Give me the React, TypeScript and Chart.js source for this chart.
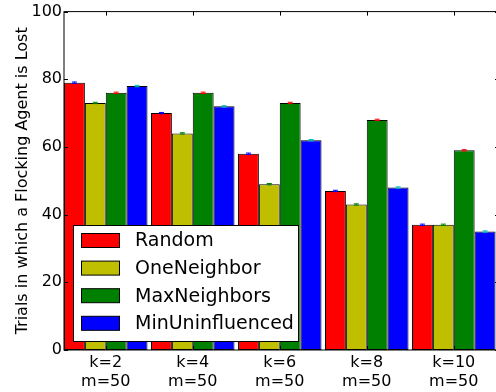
import { useEffect, useRef } from 'react';
import { Chart, registerables } from 'chart.js';

Chart.register(...registerables);

const categories: string[][] = [
  ['k=2', 'm=50'],
  ['k=4', 'm=50'],
  ['k=6', 'm=50'],
  ['k=8', 'm=50'],
  ['k=10', 'm=50'],
];
const seriesNames = ['Random', 'OneNeighbor', 'MaxNeighbors', 'MinUninfluenced'];
const randomValues = [79, 70, 58, 47, 37];
const oneNeighborValues = [73, 64, 49, 43, 37];
const maxNeighborsValues = [76, 76, 73, 68, 59];
const minUninfluencedValues = [78, 72, 62, 48, 35];
const randomErr = [0.2, 0.2, 0.2, 0.2, 0.2];
const oneNeighborErr = [0.2, 0.2, 0.2, 0.2, 0.2];
const maxNeighborsErr = [0.2, 0.2, 0.2, 0.2, 0.2];
const minUninfluencedErr = [0.2, 0.2, 0.2, 0.2, 0.2];
const yTicks = [0, 20, 40, 60, 80, 100];
const yTitle = 'Trials in which a Flocking Agent is Lost';

const barColors = ['#ff0000', '#bfbf00', '#008000', '#0000ff'];
const errColors = ['#0000ff', '#008000', '#ff0000', '#00bfbf'];
const FONT = '"DejaVu Sans", sans-serif';

const seriesValues = [randomValues, oneNeighborValues, maxNeighborsValues, minUninfluencedValues];
const seriesErrs = [randomErr, oneNeighborErr, maxNeighborsErr, minUninfluencedErr];

const decorPlugin = {
  id: 'decor',
  afterDatasetsDraw(chart: any) {
    const ctx = chart.ctx;
    const yScale = chart.scales.y;
    seriesValues.forEach((vals, di) => {
      const meta = chart.getDatasetMeta(di);
      meta.data.forEach((bar: any, j: number) => {
        const v = vals[j];
        const e = seriesErrs[di][j];
        const yTop = yScale.getPixelForValue(v + e);
        const yBot = yScale.getPixelForValue(v - e);
        ctx.save();
        ctx.strokeStyle = errColors[di];
        ctx.lineWidth = 1;
        ctx.beginPath();
        ctx.moveTo(bar.x, yTop);
        ctx.lineTo(bar.x, yBot);
        ctx.moveTo(bar.x - 2.5, yTop);
        ctx.lineTo(bar.x + 2.5, yTop);
        ctx.moveTo(bar.x - 2.5, yBot);
        ctx.lineTo(bar.x + 2.5, yBot);
        ctx.stroke();
        ctx.restore();
      });
    });
  },
  afterDraw(chart: any) {
    const ctx = chart.ctx;
    const { left, right, top, bottom } = chart.chartArea;
    const xScale = chart.scales.x;
    const yScale = chart.scales.y;
    ctx.save();
    ctx.strokeStyle = '#000';
    ctx.lineWidth = 1;
    ctx.beginPath();
    categories.forEach((_, i) => {
      const x = Math.round(xScale.getPixelForValue(i)) + 0.5;
      ctx.moveTo(x, top);
      ctx.lineTo(x, top + 4);
      ctx.moveTo(x, bottom);
      ctx.lineTo(x, bottom - 4);
    });
    yTicks.forEach((t) => {
      const y = Math.round(yScale.getPixelForValue(t)) + 0.5;
      ctx.moveTo(left, y);
      ctx.lineTo(left + 4, y);
      ctx.moveTo(right, y);
      ctx.lineTo(right - 4, y);
    });
    ctx.stroke();
    ctx.strokeStyle = '#000';
    ctx.lineWidth = 1;
    ctx.strokeRect(left, top, right - left, bottom - top);

    // legend
    const lx = 73.5, ly = 225.5, lw = 225, lh = 116;
    ctx.fillStyle = '#ffffff';
    ctx.fillRect(lx, ly, lw, lh);
    ctx.strokeStyle = '#000';
    ctx.lineWidth = 1;
    ctx.strokeRect(lx, ly, lw, lh);
    ctx.font = `19px ${FONT}`;
    ctx.textBaseline = 'middle';
    ctx.textAlign = 'left';
    seriesNames.forEach((name, i) => {
      const cy = 240.5 + i * 27.6;
      ctx.fillStyle = barColors[i];
      ctx.fillRect(81.5, cy - 7, 38, 14);
      ctx.strokeStyle = '#000';
      ctx.strokeRect(81.5, cy - 7, 38, 14);
      ctx.fillStyle = '#000';
      ctx.fillText(name, 135, cy + 1);
    });
    ctx.restore();
  },
};

export default function App() {
  const canvasRef = useRef<HTMLCanvasElement | null>(null);
  useEffect(() => {
    if (!canvasRef.current) return;
    const chart = new Chart(canvasRef.current, {
      type: 'bar',
      data: {
        datasets: seriesNames.map((name, di) => ({
          label: name,
          data: seriesValues[di].map((v, i) => ({ x: i, y: v })),
          backgroundColor: barColors[di],
          borderColor: '#000',
          borderWidth: 1,
          borderSkipped: false,
          categoryPercentage: 0.96,
          barPercentage: 1,
        })),
      },
      options: {
        responsive: false,
        animation: false,
        layout: { padding: { top: 10, left: 0, right: 5, bottom: 0 } },
        plugins: { legend: { display: false }, tooltip: { enabled: false } },
        scales: {
          x: {
            type: 'linear',
            min: -0.48,
            max: 4.52,
            offset: false,
            grid: { display: false, drawTicks: false },
            border: { display: false },
            afterBuildTicks: (scale: any) => {
              scale.ticks = categories.map((_, i) => ({ value: i }));
            },
            afterFit: (scale: any) => {
              scale.height = 42;
            },
            ticks: {
              autoSkip: false,
              maxRotation: 0,
              padding: 4,
              color: '#000',
              font: { family: FONT, size: 16, lineHeight: 1.15 },
              callback: (v: any) => categories[Number(v)] ?? '',
            },
          },
          y: {
            min: 0,
            max: 100,
            grid: { display: false, drawTicks: false },
            border: { display: false },
            afterBuildTicks: (scale: any) => {
              scale.ticks = yTicks.map((t) => ({ value: t }));
            },
            afterFit: (scale: any) => {
              scale.width = 64;
            },
            ticks: {
              padding: 2,
              color: '#000',
              font: { family: FONT, size: 16 },
            },
            title: {
              display: true,
              text: yTitle,
              color: '#000',
              font: { family: FONT, size: 16 },
              padding: { top: 13, bottom: 0 },
            },
          },
        },
      },
      plugins: [decorPlugin],
    } as any);
    return () => chart.destroy();
  }, []);
  return (
    <div style={{ position: 'fixed', left: 0, top: 0, width: 496, height: 392, overflow: 'hidden', background: '#fff' }}>
      <canvas ref={canvasRef} width={504} height={392} style={{ width: 504, height: 392, display: 'block' }} />
    </div>
  );
}
